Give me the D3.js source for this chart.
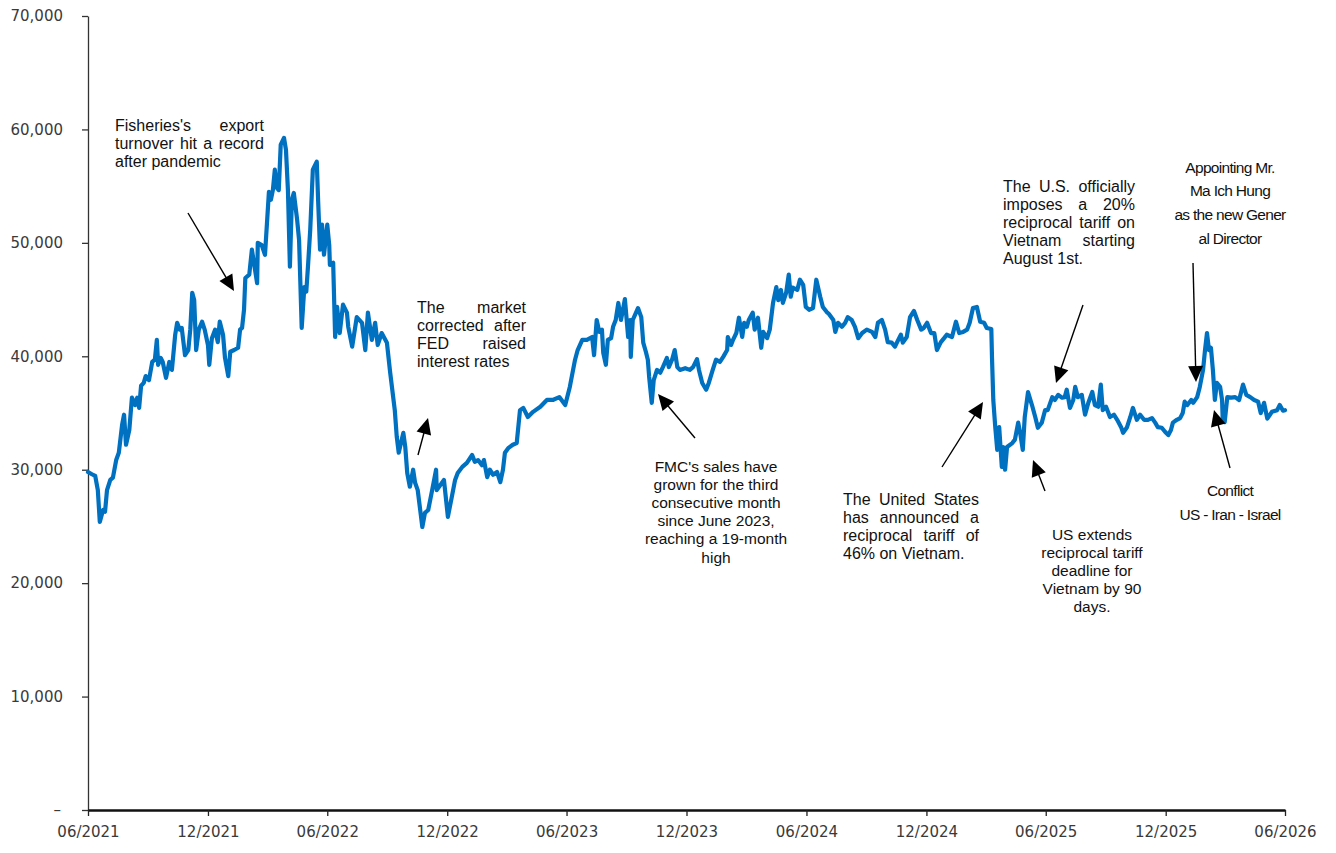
<!DOCTYPE html>
<html>
<head>
<meta charset="utf-8">
<script src="https://cdn.jsdelivr.net/npm/d3@7"></script>
<style>
  html, body { margin: 0; padding: 0; background: #fff; }
  svg { display: block; }
</style>
</head>
<body>
<script>
// ---------------- DATA ----------------
const dates = [
  "2021-06-01","2021-06-07","2021-06-12","2021-06-16","2021-06-19","2021-06-24","2021-06-27","2021-06-30",
  "2021-07-05","2021-07-09","2021-07-14","2021-07-18","2021-07-23","2021-07-26","2021-07-29","2021-08-03",
  "2021-08-07","2021-08-12","2021-08-15","2021-08-18","2021-08-21","2021-08-25","2021-08-28","2021-09-02",
  "2021-09-07","2021-09-11","2021-09-14","2021-09-16","2021-09-20","2021-09-23","2021-09-28","2021-10-03",
  "2021-10-07","2021-10-12","2021-10-15","2021-10-19","2021-10-22","2021-10-27","2021-11-01","2021-11-04",
  "2021-11-07","2021-11-10","2021-11-13","2021-11-17","2021-11-22","2021-11-26","2021-12-01","2021-12-03",
  "2021-12-07","2021-12-12","2021-12-16","2021-12-19","2021-12-24","2021-12-27",
  "2022-01-01","2022-01-04","2022-01-10","2022-01-16","2022-01-19","2022-01-22","2022-01-25","2022-01-27",
  "2022-02-02","2022-02-06","2022-02-09","2022-02-14","2022-02-15","2022-02-21","2022-02-26","2022-03-04",
  "2022-03-07","2022-03-10","2022-03-13","2022-03-16","2022-03-19","2022-03-22","2022-03-27","2022-03-30",
  "2022-04-02","2022-04-05","2022-04-08","2022-04-11","2022-04-16","2022-04-19","2022-04-23","2022-04-27",
  "2022-04-30","2022-05-03","2022-05-06","2022-05-10","2022-05-16","2022-05-18","2022-05-21","2022-05-24",
  "2022-05-27","2022-06-01","2022-06-04","2022-06-05","2022-06-10","2022-06-13","2022-06-16","2022-06-20",
  "2022-06-25","2022-07-01","2022-07-03","2022-07-09","2022-07-16","2022-07-24","2022-07-29","2022-08-02",
  "2022-08-08","2022-08-13","2022-08-17","2022-08-23","2022-08-31","2022-09-05","2022-09-12","2022-09-15",
  "2022-09-18","2022-09-25","2022-09-28","2022-10-01","2022-10-05","2022-10-10","2022-10-13","2022-10-17",
  "2022-10-24","2022-10-28","2022-11-02","2022-11-08","2022-11-14","2022-11-15","2022-11-23","2022-11-26",
  "2022-12-02","2022-12-08","2022-12-13","2022-12-17","2022-12-24","2022-12-31",
  "2023-01-08","2023-01-12","2023-01-17","2023-01-23","2023-01-26","2023-01-31","2023-02-04","2023-02-09",
  "2023-02-15","2023-02-20","2023-02-24","2023-02-27","2023-03-04","2023-03-11","2023-03-17","2023-03-22",
  "2023-03-27","2023-04-03","2023-04-11","2023-04-22","2023-05-02","2023-05-11","2023-05-21","2023-05-30",
  "2023-06-06","2023-06-09","2023-06-14","2023-06-18","2023-06-25","2023-07-02","2023-07-10","2023-07-13",
  "2023-07-17","2023-07-21","2023-07-25","2023-07-27","2023-07-31","2023-08-03","2023-08-08","2023-08-11",
  "2023-08-15","2023-08-19","2023-08-23","2023-08-26","2023-08-29","2023-09-03","2023-09-06","2023-09-07",
  "2023-09-10","2023-09-15","2023-09-18","2023-09-23","2023-09-26","2023-09-30","2023-10-03","2023-10-05",
  "2023-10-09","2023-10-12","2023-10-17","2023-10-22","2023-10-26","2023-11-01","2023-11-04","2023-11-09",
  "2023-11-13","2023-11-17","2023-11-21","2023-11-29","2023-12-06","2023-12-11","2023-12-17","2023-12-20",
  "2023-12-25","2023-12-31",
  "2024-01-04","2024-01-10","2024-01-15","2024-01-21","2024-01-26","2024-02-01","2024-02-02","2024-02-07",
  "2024-02-10","2024-02-15","2024-02-19","2024-02-24","2024-02-27","2024-03-02","2024-03-05","2024-03-11",
  "2024-03-14","2024-03-19","2024-03-24","2024-03-27","2024-04-02","2024-04-06","2024-04-11","2024-04-16",
  "2024-04-19","2024-04-23","2024-04-26","2024-05-01","2024-05-05","2024-05-08","2024-05-11","2024-05-18",
  "2024-05-22","2024-05-27","2024-05-31","2024-06-05","2024-06-11","2024-06-16","2024-06-22","2024-06-26",
  "2024-07-02","2024-07-05","2024-07-12","2024-07-15","2024-07-19","2024-07-25","2024-07-30","2024-08-03",
  "2024-08-09","2024-08-14","2024-08-19","2024-08-25","2024-09-01","2024-09-09","2024-09-14","2024-09-18",
  "2024-09-24","2024-09-29","2024-10-03","2024-10-09","2024-10-14","2024-10-19","2024-10-23","2024-10-26",
  "2024-11-01","2024-11-06","2024-11-12","2024-11-17","2024-11-23","2024-11-27","2024-12-02","2024-12-08",
  "2024-12-13","2024-12-17","2024-12-23","2024-12-28",
  "2025-01-01","2025-01-09","2025-01-15","2025-01-20","2025-01-26","2025-02-01","2025-02-05","2025-02-10",
  "2025-02-16","2025-02-21","2025-02-27","2025-03-03","2025-03-10","2025-03-11","2025-03-13","2025-03-16",
  "2025-03-19","2025-03-22","2025-03-26","2025-03-28","2025-03-31","2025-04-03","2025-04-11","2025-04-15",
  "2025-04-20","2025-04-23","2025-04-27","2025-04-30","2025-05-05","2025-05-11","2025-05-16","2025-05-20",
  "2025-05-26","2025-05-31","2025-06-04","2025-06-11","2025-06-15","2025-06-20","2025-06-26","2025-06-30",
  "2025-07-03","2025-07-08","2025-07-13","2025-07-16","2025-07-20","2025-07-26","2025-07-31","2025-08-05",
  "2025-08-11","2025-08-15","2025-08-20","2025-08-24","2025-08-27","2025-09-01","2025-09-07","2025-09-13",
  "2025-09-18","2025-09-24","2025-09-27","2025-10-03","2025-10-08","2025-10-12","2025-10-18","2025-10-23",
  "2025-10-29","2025-11-04","2025-11-10","2025-11-15","2025-11-19","2025-11-25","2025-11-30","2025-12-05",
  "2025-12-09","2025-12-12","2025-12-18","2025-12-23","2025-12-27","2025-12-30",
  "2026-01-03","2026-01-09","2026-01-12","2026-01-18","2026-01-22","2026-01-27","2026-01-30","2026-02-02",
  "2026-02-05","2026-02-08","2026-02-11","2026-02-14","2026-02-17","2026-02-22","2026-02-25","2026-02-26",
  "2026-03-01","2026-03-05","2026-03-11","2026-03-17","2026-03-23","2026-03-29","2026-04-03","2026-04-09",
  "2026-04-15","2026-04-21","2026-04-25","2026-04-30","2026-05-05","2026-05-12","2026-05-20","2026-05-24",
  "2026-05-29","2026-06-01"
];
const prices = [
  29800,29600,29450,28200,25400,26450,26300,28200,
  29100,29300,30850,31500,33950,34850,32200,33500,
  36350,35700,36350,35450,37400,37650,38250,37900,
  39500,39700,41450,39250,39850,39500,38100,39500,
  38800,41900,42950,42350,42500,40100,40550,42350,
  45600,44950,40550,42350,43050,42350,41000,39250,
  41600,42350,41250,43050,41900,39850,
  38250,40400,40550,40750,42350,42500,44100,46900,
  47200,49400,48300,46450,50000,49800,48950,54500,
  53800,54650,56450,54850,54650,58650,59250,58200,
  54650,47900,53800,54400,52050,50250,42500,46100,
  45700,48300,51150,56450,57150,53800,49400,51600,
  48950,51600,49800,48050,48250,41700,44350,42050,
  44550,43850,42600,40850,43450,42950,40550,43850,
  41450,42950,41000,42050,41200,38550,35250,32900,
  31500,33250,32000,29700,28500,30000,28850,28200,
  24950,26200,26450,28200,30000,28200,28850,29100,
  25850,27600,29100,29700,30250,30600,
  31300,30700,30850,30400,30850,29350,30000,29550,
  29800,28900,30000,31500,31900,32200,32350,35250,
  35450,34650,35100,35550,36150,36150,36400,35700,
  37300,38200,39700,40550,41450,41450,41700,40100,
  43200,42150,42350,40300,39250,41450,41600,42600,
  43200,44700,43200,44100,45050,41700,43200,39950,
  43200,43850,44250,43450,41200,40400,39700,38200,
  35900,37900,38800,38550,39050,39850,39050,39700,
  40550,39050,38800,38950,38800,39050,39750,38800,
  37650,37050,
  37650,38800,39700,39500,39950,40550,41700,41000,
  41450,42050,43400,41700,42950,42600,43200,43850,
  42350,43400,40750,42150,41600,42350,44700,46100,
  44950,45850,44700,45600,47200,45250,46050,45850,
  46750,46300,44350,44100,44250,46750,45250,44350,
  43900,43750,43200,42150,42950,42600,42950,43450,
  43200,42600,41600,42050,42350,42150,41700,42950,
  43200,42350,41250,41200,40850,41450,41900,41200,
  41700,43450,44000,43200,42350,42500,42950,42050,
  42050,40550,41250,41600,
  41900,41700,43050,42050,42150,42350,42950,44250,
  44350,43050,42950,42500,42400,39950,36150,33750,
  31750,33750,30250,32000,30000,32000,32350,32650,
  34150,33250,31750,34650,36850,35700,34650,33700,
  34150,35250,35250,36400,36150,36600,36350,36400,
  37050,35450,36150,37300,36400,36600,34850,35900,
  36850,35700,35550,37500,35250,35550,34650,34850,
  34400,33750,33250,33750,34650,35450,34400,34850,
  34400,34400,34550,34150,33750,33700,33350,33050,
  33500,34150,34400,34550,35000,36000,
  35700,36150,35900,36400,37300,38800,40550,42050,
  40550,40750,38800,36150,37650,37300,36150,34400,
  34200,36400,36350,36400,36150,37500,36600,36400,
  36150,36000,35000,35900,34500,35100,35250,35700,
  35200,35250
];
const xTickLabels = ["06/2021","12/2021","06/2022","12/2022","06/2023","12/2023",
                     "06/2024","12/2024","06/2025","12/2025","06/2026"];
const yTickValues = [0,10000,20000,30000,40000,50000,60000,70000];

// annotation texts
const noteFisheries = ["Fisheries's export","turnover hit a record","after pandemic"];
const noteFed = ["The market","corrected after","FED raised","interest rates"];
const noteFmc = ["FMC's sales have","grown for the third","consecutive month","since June 2023,","reaching a 19-month","high"];
const noteTariff46 = ["The United States","has announced a","reciprocal tariff of","46% on Vietnam."];
const noteExtend = ["US extends","reciprocal tariff","deadline for","Vietnam by 90","days."];
const noteTariff20 = ["The U.S. officially","imposes a 20%","reciprocal tariff on","Vietnam starting","August 1st."];
const noteAppoint = ["Appointing Mr.","Ma Ich Hung","as the new Gener","al Director"];
const noteConflict = ["Conflict","US - Iran - Israel"];

// ---------------- CHART ----------------
const W = 1336, H = 853;
const mLeft = 88, mRight = 1285, mTop = 16, mBottom = 810;

const parseDay = d3.timeParse("%Y-%m-%d");
const parseTick = d3.timeParse("%m/%Y");
const series = dates.map((d, i) => ({ date: parseDay(d), value: prices[i] }));
const tickDates = xTickLabels.map(parseTick);

const svg = d3.select("body").append("svg").attr("width", W).attr("height", H);

const x = d3.scaleTime().domain([tickDates[0], tickDates[tickDates.length - 1]]).range([mLeft, mRight]);
const y = d3.scaleLinear().domain([0, 70000]).range([mBottom, mTop]);

// y axis
const yAxis = svg.append("g").attr("transform", `translate(${mLeft},0)`)
  .call(d3.axisLeft(y).tickValues(yTickValues).tickSize(6).tickSizeOuter(0).tickPadding(19)
    .tickFormat(d => d === 0 ? "–" : d3.format(",")(d)));
yAxis.select(".domain").attr("stroke", "#333").attr("stroke-width", 1.3);
yAxis.selectAll(".tick line").attr("stroke", "#333").attr("stroke-width", 1.3);
yAxis.selectAll("text").attr("font-family", "'DejaVu Sans', sans-serif").attr("font-size", 15)
  .attr("fill", "#3a3a3a");
yAxis.selectAll(".tick").filter(d => d === 0).select("text").attr("x", -27);

// x axis
const fmtTick = d3.timeFormat("%m/%Y");
const xAxis = svg.append("g").attr("transform", `translate(0,${mBottom})`)
  .call(d3.axisBottom(x).tickValues(tickDates).tickSize(6).tickSizeOuter(0).tickPadding(10)
    .tickFormat(fmtTick));
xAxis.select(".domain").attr("stroke", "#111").attr("stroke-width", 2.5);
xAxis.selectAll(".tick line").attr("stroke", "#222").attr("stroke-width", 1.3);
xAxis.selectAll("text").attr("font-family", "'DejaVu Sans', sans-serif").attr("font-size", 15)
  .attr("fill", "#3a3a3a");

// line
svg.append("path").datum(series)
  .attr("fill", "none").attr("stroke", "#0070C0").attr("stroke-width", 4.2)
  .attr("stroke-linejoin", "round").attr("stroke-linecap", "round")
  .attr("d", d3.line().x(d => x(d.date)).y(d => y(d.value)));

// ---------------- ANNOTATIONS ----------------
const notes = svg.append("g").attr("fill", "#111");

function para(lines, opts) {
  const { x0, y0, lh, size, width, align, ls } = opts;
  lines.forEach((line, i) => {
    const yy = y0 + i * lh;
    const isLast = i === lines.length - 1;
    const words = line.split(" ");
    if (align === "justify" && !isLast && words.length > 1) {
      const ts = words.map(w => notes.append("text")
        .attr("font-family", "'Liberation Sans', Arial, sans-serif")
        .attr("font-size", size).attr("y", yy).text(w));
      const widths = ts.map(t => t.node().getComputedTextLength());
      const sum = d3.sum(widths);
      const gap = (width - sum) / (words.length - 1);
      let cx = x0;
      ts.forEach((t, k) => { t.attr("x", cx); cx += widths[k] + gap; });
    } else {
      const t = notes.append("text")
        .attr("font-family", "'Liberation Sans', Arial, sans-serif")
        .attr("font-size", size).attr("y", yy).text(line);
      if (ls) t.attr("letter-spacing", ls);
      if (align === "center") t.attr("x", x0).attr("text-anchor", "middle");
      else t.attr("x", x0);
    }
  });
}

para(noteFisheries, { x0: 115, y0: 131, lh: 18, size: 16, width: 149, align: "justify" });
para(noteFed, { x0: 417, y0: 312.5, lh: 18, size: 16, width: 109, align: "justify" });
para(noteFmc, { x0: 716, y0: 471.5, lh: 18.2, size: 15.5, align: "center" });
para(noteTariff46, { x0: 843, y0: 505, lh: 17.9, size: 16, width: 136, align: "justify" });
para(noteExtend, { x0: 1092, y0: 539.5, lh: 18, size: 15.5, align: "center" });
para(noteTariff20, { x0: 1003, y0: 191.5, lh: 18.1, size: 16, width: 132, align: "justify" });
para(noteAppoint, { x0: 1230, y0: 172.5, lh: 23.7, size: 15.5, align: "center", ls: -0.7 });
para(noteConflict, { x0: 1230, y0: 496, lh: 24, size: 15.5, align: "center", ls: -0.7 });

function arrow(x1, y1, x2, y2) {
  const headL = 16, headW = 7.5;
  const dx = x2 - x1, dy = y2 - y1, len = Math.hypot(dx, dy);
  const ux = dx / len, uy = dy / len;
  const bx = x2 - ux * headL, by = y2 - uy * headL;
  svg.append("line").attr("x1", x1).attr("y1", y1).attr("x2", bx + ux * 2).attr("y2", by + uy * 2)
    .attr("stroke", "#000").attr("stroke-width", 1.4);
  svg.append("path")
    .attr("d", `M${x2},${y2}L${bx - uy * headW},${by + ux * headW}L${bx + uy * headW},${by - ux * headW}Z`)
    .attr("fill", "#000");
}

arrow(188, 213, 234, 291);
arrow(418, 455, 428, 418);
arrow(695, 438, 658, 394);
arrow(942, 467, 983, 402);
arrow(1045, 491, 1033, 460);
arrow(1083, 305, 1056, 383);
arrow(1193, 263, 1196, 382);
arrow(1230, 468, 1214, 410);
</script>
</body>
</html>
